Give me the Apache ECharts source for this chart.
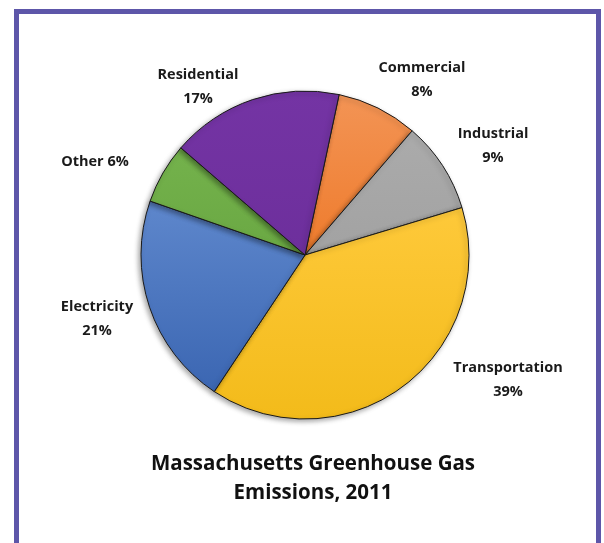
<!DOCTYPE html>
<html>
<head>
<meta charset="utf-8">
<script src="https://cdn.jsdelivr.net/npm/echarts@6/dist/echarts.min.js"></script>
<style>
html,body{margin:0;padding:0;background:#fff;}
#chart{width:604px;height:543px;}
</style>
</head>
<body>
<div id="chart"></div>
<script>
// Data
const categories = ['Commercial', 'Industrial', 'Transportation', 'Electricity', 'Other', 'Residential'];
const shares = [8, 9, 39, 21, 6, 17];
const titleLines = ['Massachusetts Greenhouse Gas', 'Emissions, 2011'];

// Styles
const gradients = [
  ['#f39455', '#ee7b2c'],
  ['#ababab', '#a2a2a2'],
  ['#fec93a', '#f3bb1a'],
  ['#5e87cc', '#3b66b2'],
  ['#74b24c', '#6aa843'],
  ['#7434a4', '#6d2f9c']
];
const oneLine = [false, false, false, false, true, false];
const labelOffsets = [[117, -175], [188, -109], [203, 125], [-208, 64], [-210, -93], [-107, -168]];
const cx = 305, cy = 255, R = 164;

const chart = echarts.init(document.getElementById('chart'), null, {renderer: 'canvas'});
const seriesData = categories.map((c, i) => ({
  name: c,
  value: shares[i],
  itemStyle: {
    color: new echarts.graphic.LinearGradient(0, 0, 0, 1, [
      {offset: 0, color: gradients[i][0]},
      {offset: 1, color: gradients[i][1]}
    ])
  }
}));

chart.setOption({
  animation: false,
  backgroundColor: '#ffffff',
  title: {
    text: titleLines.join('\n'),
    left: 308,
    top: 445,
    textAlign: 'center',
    textStyle: {
      fontFamily: 'Open Sans',
      fontWeight: 'bold',
      fontSize: 20.5,
      lineHeight: 29,
      color: '#111'
    }
  },
  graphic: [{
    type: 'rect',
    shape: {x: 16.5, y: 11.5, width: 582, height: 620},
    style: {fill: 'none', stroke: '#5d56a9', lineWidth: 5},
    silent: true
  }],
  series: [{
    type: 'pie',
    center: [cx, cy],
    radius: R,
    startAngle: 78,
    clockwise: true,
    data: seriesData,
    itemStyle: {
      borderColor: '#1a1a1a',
      borderWidth: 1,
      shadowBlur: 5,
      shadowOffsetX: -2,
      shadowOffsetY: 2,
      shadowColor: 'rgba(0,0,0,0.35)'
    },
    label: {
      show: true,
      position: 'outside',
      formatter: p => p.name + (oneLine[p.dataIndex] ? ' ' : '\n') + p.value + '%',
      fontFamily: 'Open Sans',
      fontWeight: 'bold',
      fontSize: 14.5,
      lineHeight: 24,
      color: '#1a1a1a',
      align: 'center'
    },
    labelLine: {show: false},
    labelLayout: function (p) {
      const off = labelOffsets[p.dataIndex];
      return {x: cx + off[0], y: cy + off[1], align: 'center', verticalAlign: 'middle'};
    },
    emphasis: {disabled: true}
  }]
});
</script>
</body>
</html>
